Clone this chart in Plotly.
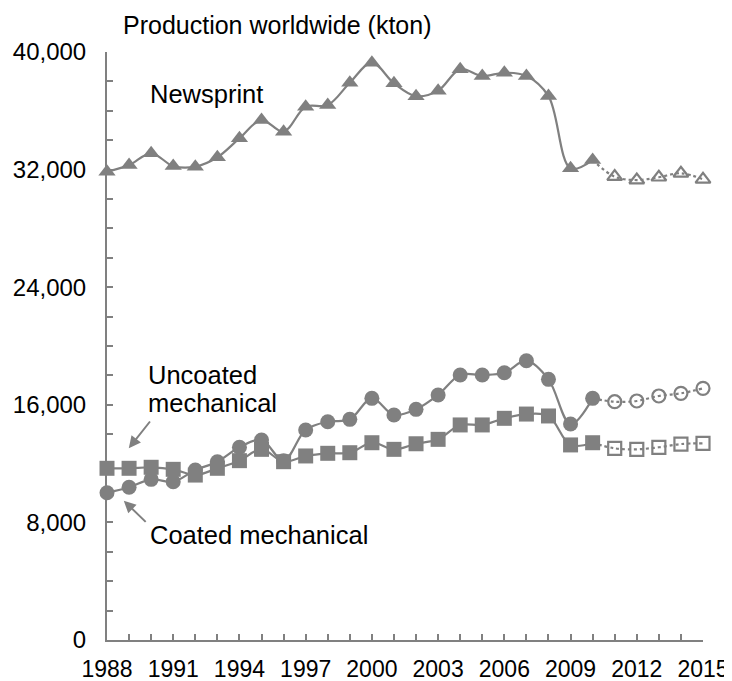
import plotly.graph_objects as go

years = list(range(1988, 2016))
newsprint = [31860, 32310, 33110, 32240, 32200, 32840, 34130, 35370, 34580, 36280,
             36390, 37910, 39270, 37870, 36990, 37370, 38820, 38370, 38590, 38370,
             37000, 32090, 32650, 31520, 31290, 31480, 31750, 31340]
uncoated = [11680, 11680, 11750, 11610, 11220, 11680, 12200, 12970, 12130, 12520,
            12700, 12740, 13420, 12970, 13350, 13650, 14630, 14630, 15080, 15370,
            15240, 13270, 13420, 13040, 12970, 13110, 13330, 13380]
coated = [10020, 10390, 10930, 10770, 11560, 12130, 13110, 13610, 12200, 14290,
          14850, 15010, 16440, 15310, 15690, 16670, 18030, 18030, 18180, 19000,
          17730, 14690, 16440, 16210, 16260, 16600, 16780, 17120]
last_actual_year = 2010
y_tickvals = [0, 8000, 16000, 24000, 32000, 40000]
x_tickvals = list(range(1988, 2016, 3))

GRAY = "#808080"
FONT = "Liberation Sans, Arial, sans-serif"

series = [
    ("Newsprint", newsprint, "triangle-up", 15),
    ("Uncoated mechanical", uncoated, "square", 15),
    ("Coated mechanical", coated, "circle", 15),
]

fig = go.Figure()
k = years.index(last_actual_year)
for name, vals, sym, size in series:
    fig.add_trace(go.Scatter(
        x=years[:k + 1], y=vals[:k + 1], mode="lines+markers", name=name,
        line=dict(color=GRAY, width=2.2, shape="spline", smoothing=1),
        marker=dict(symbol=sym, size=size, color=GRAY, line=dict(color=GRAY, width=0)),
        cliponaxis=False, showlegend=False, hoverinfo="skip"))
    fig.add_trace(go.Scatter(
        x=years[k:], y=vals[k:], mode="lines",
        line=dict(color=GRAY, width=2.2, dash="dot", shape="spline", smoothing=1),
        cliponaxis=False, showlegend=False, hoverinfo="skip"))
    fig.add_trace(go.Scatter(
        x=years[k + 1:], y=vals[k + 1:], mode="markers",
        marker=dict(symbol=sym + "-open", size=size - 2, color=GRAY, line=dict(color=GRAY, width=2.2)),
        cliponaxis=False, showlegend=False, hoverinfo="skip"))

# page body has an 8px margin; figure sized so it fits the 732x681 window
OFF = 8
W, H = 724, 673
L, T = 106.5 - OFF, 52 - OFF
pw, ph = 596.5, 588
R, B = W - L - pw, H - T - ph


def px(x):
    return (x - OFF - L) / pw


def py(y):
    return (T + OFF + ph - y) / ph


ann_font = dict(family=FONT, size=25.5, color="#000000")
annotations = [
    dict(text="Production worldwide (kton)", x=px(277), y=py(25), xref="paper", yref="paper",
         xanchor="center", yanchor="middle", showarrow=False,
         font=dict(family=FONT, size=25, color="#000000")),
    dict(text="Newsprint", x=px(148), y=py(94), xref="paper", yref="paper",
         xanchor="left", yanchor="middle", showarrow=False, font=ann_font),
    dict(text="Uncoated", x=px(146), y=py(375), xref="paper", yref="paper",
         xanchor="left", yanchor="middle", showarrow=False, font=ann_font),
    dict(text="mechanical", x=px(146), y=py(403), xref="paper", yref="paper",
         xanchor="left", yanchor="middle", showarrow=False, font=ann_font),
    dict(text="Coated mechanical", x=px(148), y=py(535), xref="paper", yref="paper",
         xanchor="left", yanchor="middle", showarrow=False, font=ann_font),
    dict(text="", x=px(128.3), y=py(448.3), xref="paper", yref="paper",
         showarrow=True, ax=22.4, ay=-28.3, axref="pixel", ayref="pixel",
         arrowhead=2, arrowsize=1.2, arrowwidth=2, arrowcolor=GRAY, standoff=0),
    dict(text="", x=px(123.3), y=py(500.7), xref="paper", yref="paper",
         showarrow=True, ax=23.4, ay=22.6, axref="pixel", ayref="pixel",
         arrowhead=2, arrowsize=1.2, arrowwidth=2, arrowcolor=GRAY, standoff=0),
]

fig.update_layout(
    width=W, height=H,
    margin=dict(l=L, r=R, t=T, b=B, pad=0, autoexpand=False),
    paper_bgcolor="white", plot_bgcolor="white",
    font=dict(family=FONT, size=22, color="#000000"),
    annotations=annotations,
    showlegend=False,
)
fig.update_xaxes(
    range=[1988, 2015], tickvals=x_tickvals, showgrid=False, zeroline=False,
    showline=True, linecolor=GRAY, linewidth=2, automargin=False,
    ticks="inside", ticklen=6, tickwidth=2, tickcolor=GRAY,
    minor=dict(dtick=1, tick0=1988, ticks="inside", ticklen=6, tickwidth=2, tickcolor=GRAY, showgrid=False),
    tickfont=dict(family=FONT, size=23, color="#000000"), ticklabelstandoff=7,
)
fig.update_yaxes(
    range=[0, 40000], tickvals=y_tickvals, tickformat=",d", showgrid=False, zeroline=False,
    showline=True, linecolor=GRAY, linewidth=2, automargin=False,
    ticks="inside", ticklen=6, tickwidth=2, tickcolor=GRAY,
    minor=dict(dtick=2000, tick0=0, ticks="inside", ticklen=6, tickwidth=2, tickcolor=GRAY, showgrid=False),
    tickfont=dict(family=FONT, size=24, color="#000000"), ticklabelstandoff=14,
)

fig.write_html("out.html")
